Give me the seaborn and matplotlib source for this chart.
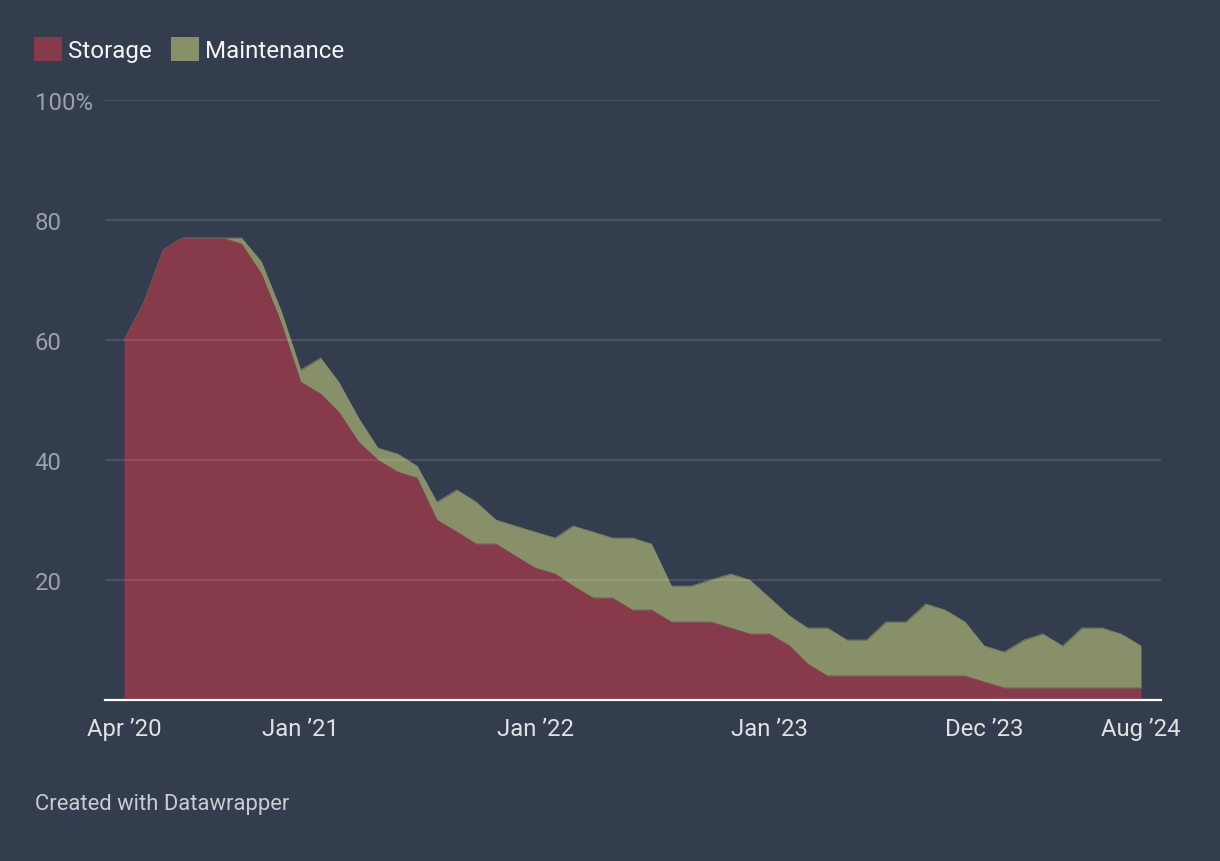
import matplotlib
matplotlib.use("Agg")
import matplotlib.pyplot as plt
import matplotlib.dates as mdates
from matplotlib.patches import Patch
import seaborn as sns
import pandas as pd
import numpy as np

# ---- data (percent), monthly Apr 2020 .. Aug 2024 ----
storage = [60, 66, 75, 77, 77, 77, 76, 71, 63, 53,
           51, 48, 43, 40, 38, 37, 30, 28, 26, 26,
           24, 22, 21, 19, 17, 17, 15, 15, 13, 13,
           13, 12, 11, 11, 9, 6, 4, 4, 4, 4,
           4, 4, 4, 4, 3, 2, 2, 2, 2, 2,
           2, 2, 2]
total = [60, 66, 75, 77, 77, 77, 77, 73, 65, 55,
         57, 53, 47, 42, 41, 39, 33, 35, 33, 30,
         29, 28, 27, 29, 28, 27, 27, 26, 19, 19,
         20, 21, 20, 17, 14, 12, 12, 10, 10, 13,
         13, 16, 15, 13, 9, 8, 10, 11, 9, 12,
         12, 11, 9]
maintenance = [t - s for t, s in zip(total, storage)]
series_names = ["Storage", "Maintenance"]
tick_dates = ["2020-04-01", "2021-01-01", "2022-01-01", "2023-01-01", "2023-12-01", "2024-08-01"]
tick_labels = ["Apr \u201920", "Jan \u201921", "Jan \u201922", "Jan \u201923", "Dec \u201923", "Aug \u201924"]
y_ticks = [20, 40, 60, 80, 100]
y_labels = ["20", "40", "60", "80", "100%"]

dates = pd.date_range("2020-04-01", periods=len(storage), freq="MS")
df = pd.DataFrame({"date": dates, "Storage": storage, "Maintenance": maintenance})
df["Total"] = df["Storage"] + df["Maintenance"]

BG = "#333d4d"
C_STO = "#873a4a"
C_MNT = "#879069"

sns.set_theme(style="dark", rc={"axes.facecolor": BG, "figure.facecolor": BG})
plt.rcParams["font.family"] = ["Roboto", "DejaVu Sans"]

fig = plt.figure(figsize=(12.2, 8.62), dpi=100)
ax = fig.add_axes([105 / 1220, 1 - 701 / 862, (1161 - 105) / 1220, (701 - 101) / 862])
ax.set_facecolor(BG)

ax.stackplot(df["date"], df["Storage"], df["Maintenance"],
             colors=[C_STO, C_MNT], linewidth=0, zorder=1)
sns.lineplot(data=df, x="date", y="Total", ax=ax, color=C_MNT, linewidth=0.5, zorder=1.5)
sns.lineplot(data=df, x="date", y="Storage", ax=ax, color=C_STO, linewidth=0.5, zorder=1.6)

ax.set_ylim(0, 100)
ax.set_xlim(dates[0] - pd.Timedelta(days=29.6), dates[-1] + pd.Timedelta(days=31.1))

# grid lines on top of areas
for yv in y_ticks:
    ax.axhline(yv, color=(1, 1, 1, 0.12), linewidth=1.3, zorder=3)

ax.set_yticks(y_ticks)
ax.set_yticklabels(y_labels)
ax.tick_params(axis="y", length=0, pad=50.5, labelsize=17.2, labelcolor="#9aa1aa")
for lab in ax.get_yticklabels():
    lab.set_horizontalalignment("left")

ax.set_xticks(pd.to_datetime(tick_dates))
ax.set_xticklabels(tick_labels)
ax.tick_params(axis="x", length=0, pad=12.5, labelsize=17.2, labelcolor="#dfe1e4")

ax.set_xlabel("")
ax.set_ylabel("")
for s in ["top", "right", "left"]:
    ax.spines[s].set_visible(False)
ax.spines["bottom"].set_color("white")
ax.spines["bottom"].set_linewidth(1.6)
ax.spines["bottom"].set_zorder(4)
ax.grid(False)

handles = [Patch(facecolor=C_STO, edgecolor="none"), Patch(facecolor=C_MNT, edgecolor="none")]
leg = fig.legend(handles, series_names, loc="upper left",
                 bbox_to_anchor=(34 / 1220, 1 - 38 / 862), ncol=2, frameon=False,
                 fontsize=17.4, handlelength=1.15, handleheight=1.15,
                 handletextpad=0.25, columnspacing=0.8, borderpad=0, borderaxespad=0)
for t in leg.get_texts():
    t.set_color("#f4f4f4")

fig.text(35 / 1220, 1 - 805 / 862, "Created with Datawrapper", ha="left", va="center",
         fontsize=15.8, color="#c9cdd2")

fig.savefig("out.png", dpi=100, facecolor=BG)
